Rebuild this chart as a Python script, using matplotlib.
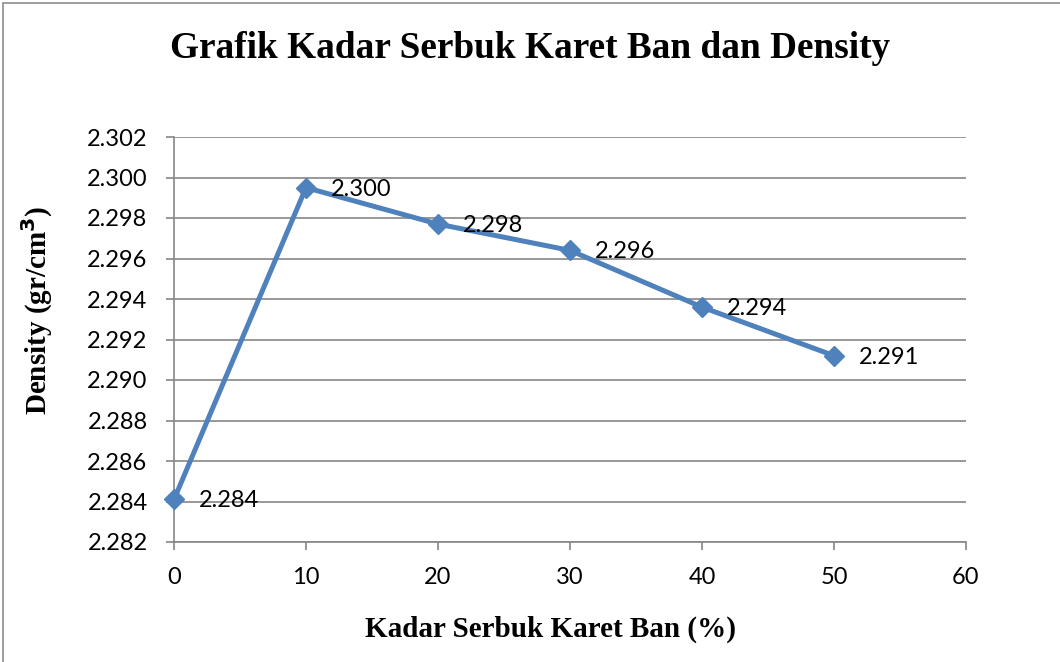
import matplotlib
matplotlib.use("Agg")
import matplotlib.pyplot as plt
from matplotlib.patches import Rectangle

# data
KADAR = [0, 10, 20, 30, 40, 50]
DENSITY = [2.2841, 2.2995, 2.2977, 2.2964, 2.2936, 2.2912]
LABELS = ["2.284", "2.300", "2.298", "2.296", "2.294", "2.291"]
X_TICKS = [0, 10, 20, 30, 40, 50, 60]
Y_TICKS = [2.282, 2.284, 2.286, 2.288, 2.290, 2.292, 2.294, 2.296, 2.298, 2.300, 2.302]

LINE_COLOR = "#4F81BD"
GRID_COLOR = "#868686"
TICK_FONT = "Lato"
SERIF = "Liberation Serif"

fig = plt.figure(figsize=(10.6, 6.62), dpi=100)
ax = fig.add_axes([174 / 1060, 120 / 662, 792 / 1060, 405 / 662])

# outer chart frame
fig.patches.append(Rectangle((3 / 1060, -0.01), 1.02, 1.0 - 3 / 662 + 0.01,
                             transform=fig.transFigure, fill=False,
                             edgecolor="#8c8c8c", linewidth=1.2))

ax.plot(KADAR, DENSITY, color=LINE_COLOR, linewidth=3.6, marker="D",
        markersize=10.5, markerfacecolor=LINE_COLOR, markeredgecolor=LINE_COLOR,
        zorder=3, clip_on=False)

for x, y, lab in zip(KADAR, DENSITY, LABELS):
    ax.annotate(lab, xy=(x, y), xytext=(18, -1), textcoords="offset points",
                ha="left", va="center", fontsize=17, family=TICK_FONT,
                color="black", zorder=4)

ax.set_xlim(0, 60)
ax.set_ylim(2.282, 2.302)
ax.set_xticks(X_TICKS)
ax.set_yticks(Y_TICKS)
ax.set_xticklabels([str(v) for v in X_TICKS])
ax.set_yticklabels(["%.3f" % v for v in Y_TICKS])
for lab in ax.get_xticklabels() + ax.get_yticklabels():
    lab.set_family(TICK_FONT)
    lab.set_fontsize(17)

ax.yaxis.grid(True, color=GRID_COLOR, linewidth=1.2)
ax.set_axisbelow(True)
for s in ["top", "right"]:
    ax.spines[s].set_visible(False)
for s in ["left", "bottom"]:
    ax.spines[s].set_color(GRID_COLOR)
    ax.spines[s].set_linewidth(1.2)
ax.tick_params(axis="both", direction="out", length=6, width=1.2,
               color=GRID_COLOR)
ax.tick_params(axis="y", pad=13)
ax.tick_params(axis="x", pad=12)

ax.set_xlabel("Kadar Serbuk Karet Ban (%)", family=SERIF, fontweight="bold",
              fontsize=21, labelpad=20)
ax.set_ylabel(r"Density (gr/cm$^\mathbf{3}$)", family=SERIF, fontweight="bold",
              fontsize=21, labelpad=23)
# labels in the reference sit a little off the axes centre
ax.xaxis.label.set_x(0.475)
ax.yaxis.label.set_y(0.573)

fig.text(0.5, 1 - 48 / 662, "Grafik Kadar Serbuk Karet Ban dan Density",
         ha="center", va="center", family=SERIF, fontweight="bold", fontsize=26.8)

fig.savefig("out.png", dpi=100)
